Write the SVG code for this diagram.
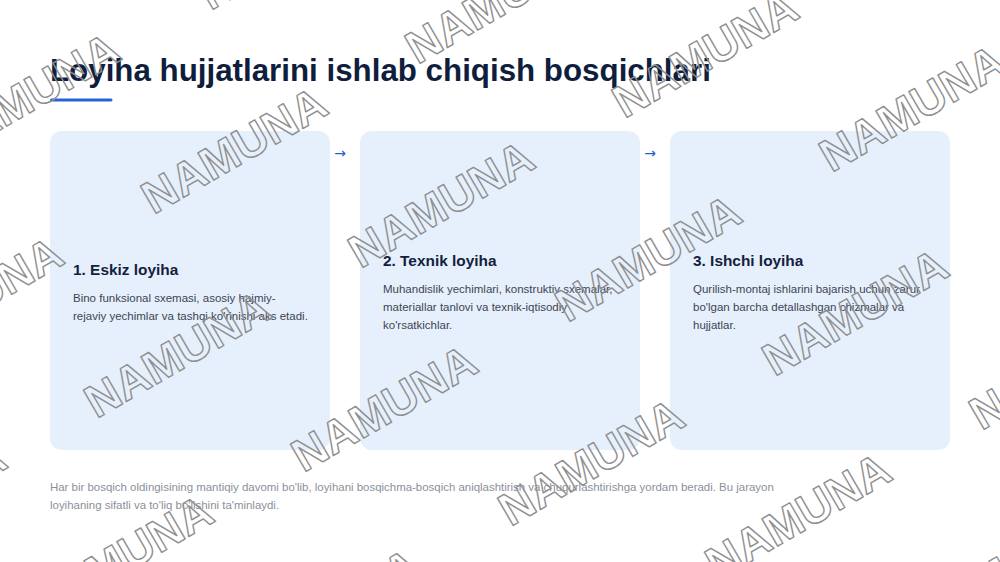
<svg xmlns="http://www.w3.org/2000/svg" xmlns:xlink="http://www.w3.org/1999/xlink" width="1000" height="562" viewBox="0 0 1000 562">
<style>
.title{font-family:"Liberation Sans",Arial,sans-serif;font-weight:bold;font-size:31.3px;fill:#0f1e3c}
.card{fill:#e6f0fc}
.ct{font-family:"Liberation Sans",Arial,sans-serif;font-weight:bold;font-size:15.4px;fill:#14213d}
.cb{font-family:"Liberation Sans",Arial,sans-serif;font-size:11.5px;fill:#3d4451}
.foot{font-family:"Liberation Sans",Arial,sans-serif;font-size:11.45px;fill:#8a909a}
.arr{font-family:"DejaVu Sans","Liberation Sans",sans-serif;font-size:14px;fill:#2a5cc4}
.wm{font-family:"Liberation Sans",Arial,sans-serif;font-weight:bold;font-size:46px;fill:none;stroke:#8f8f8f;stroke-width:1.4;stroke-linejoin:round}
</style>
<defs>
<text id="wm" class="wm" x="0" y="16" text-anchor="middle">NAMUNA</text>
</defs>
<rect width="1000" height="562" fill="#ffffff"/>
<g id="header">
<text class="title" x="50" y="81">Loyiha hujjatlarini ishlab chiqish bosqichlari</text>
<line x1="51.5" y1="100" x2="111" y2="100" stroke="#2563d6" stroke-width="3" stroke-linecap="round"/>
</g>
<g id="step1">
<rect class="card" x="50" y="131" width="280" height="319" rx="12"/>
<text class="ct" x="73" y="275">1. Eskiz loyiha</text>
<text class="cb" x="73" y="302">Bino funksional sxemasi, asosiy hajmiy-</text>
<text class="cb" x="73" y="320">rejaviy yechimlar va tashqi ko'rinishi aks etadi.</text>
</g>
<g id="step2">
<rect class="card" x="360" y="131" width="280" height="319" rx="12"/>
<text class="ct" x="383" y="266">2. Texnik loyiha</text>
<text class="cb" x="383" y="293">Muhandislik yechimlari, konstruktiv sxemalar,</text>
<text class="cb" x="383" y="311">materiallar tanlovi va texnik-iqtisodiy</text>
<text class="cb" x="383" y="329">ko'rsatkichlar.</text>
</g>
<g id="step3">
<rect class="card" x="670" y="131" width="280" height="319" rx="12"/>
<text class="ct" x="693" y="266">3. Ishchi loyiha</text>
<text class="cb" x="693" y="293">Qurilish-montaj ishlarini bajarish uchun zarur</text>
<text class="cb" x="693" y="311">bo'lgan barcha detallashgan chizmalar va</text>
<text class="cb" x="693" y="329">hujjatlar.</text>
</g>
<g id="connectors">
<text class="arr" x="340" y="158" text-anchor="middle">→</text>
<text class="arr" x="650" y="158" text-anchor="middle">→</text>
</g>
<g id="footer">
<text class="foot" x="50" y="491">Har bir bosqich oldingisining mantiqiy davomi bo'lib, loyihani bosqichma-bosqich aniqlashtirish va chuqurlashtirishga yordam beradi. Bu jarayon</text>
<text class="foot" x="50" y="509">loyihaning sifatli va to'liq bo'lishini ta'minlaydi.</text>
</g>
<g id="watermark">
<use xlink:href="#wm" transform="translate(291,-54) rotate(-30)"/>
<use xlink:href="#wm" transform="translate(498,0) rotate(-30)"/>
<use xlink:href="#wm" transform="translate(705,54) rotate(-30)"/>
<use xlink:href="#wm" transform="translate(912,108) rotate(-30)"/>
<use xlink:href="#wm" transform="translate(27,96) rotate(-30)"/>
<use xlink:href="#wm" transform="translate(234,150) rotate(-30)"/>
<use xlink:href="#wm" transform="translate(441,204) rotate(-30)"/>
<use xlink:href="#wm" transform="translate(648,258) rotate(-30)"/>
<use xlink:href="#wm" transform="translate(855,312) rotate(-30)"/>
<use xlink:href="#wm" transform="translate(1062,366) rotate(-30)"/>
<use xlink:href="#wm" transform="translate(-30,300) rotate(-30)"/>
<use xlink:href="#wm" transform="translate(177,354) rotate(-30)"/>
<use xlink:href="#wm" transform="translate(384,408) rotate(-30)"/>
<use xlink:href="#wm" transform="translate(591,462) rotate(-30)"/>
<use xlink:href="#wm" transform="translate(798,516) rotate(-30)"/>
<use xlink:href="#wm" transform="translate(1005,570) rotate(-30)"/>
<use xlink:href="#wm" transform="translate(-87,504) rotate(-30)"/>
<use xlink:href="#wm" transform="translate(120,558) rotate(-30)"/>
<use xlink:href="#wm" transform="translate(327,612) rotate(-30)"/>
</g>
</svg>
